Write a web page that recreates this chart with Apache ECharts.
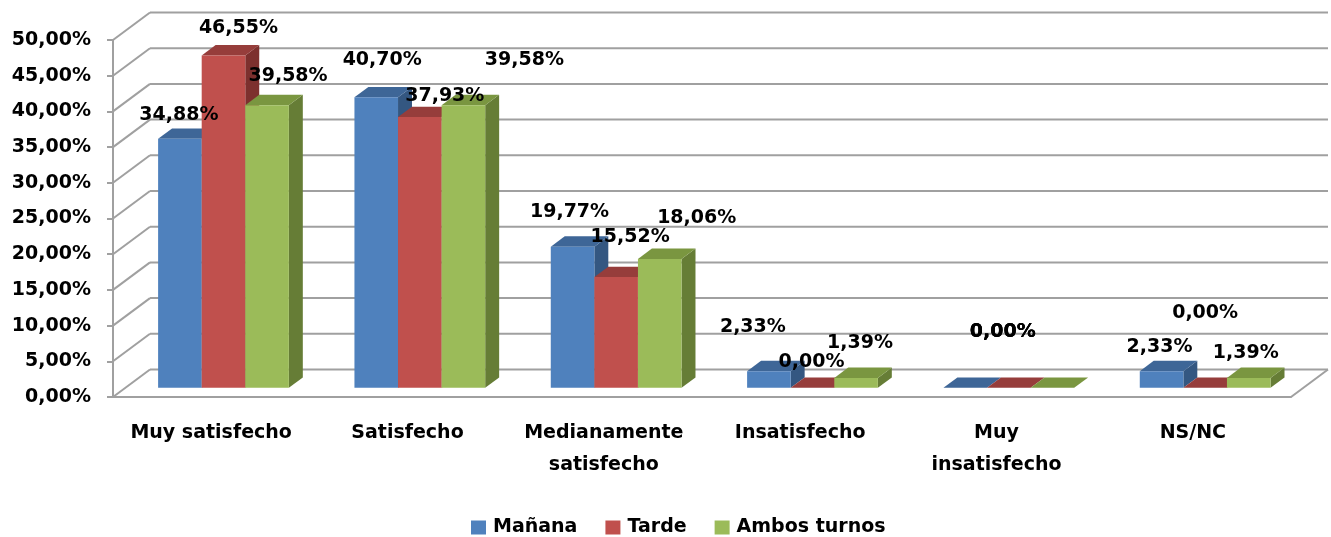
<!DOCTYPE html>
<html>
<head>
<meta charset="utf-8">
<script src="https://cdn.jsdelivr.net/npm/echarts@6/dist/echarts.min.js"></script>
<style>
  html, body { margin: 0; padding: 0; background: #fff; }
  #chart { width: 1331px; height: 537px; }
</style>
</head>
<body>
<div id="chart"></div>
<script>
const categories = ['Muy satisfecho', 'Satisfecho', 'Medianamente\nsatisfecho', 'Insatisfecho', 'Muy\ninsatisfecho', 'NS/NC'];
const manana = [34.88, 40.70, 19.77, 2.33, 0.00, 2.33];
const tarde = [46.55, 37.93, 15.52, 0.00, 0.00, 0.00];
const ambos = [39.58, 39.58, 18.06, 1.39, 0.00, 1.39];
const yTicks = [0, 5, 10, 15, 20, 25, 30, 35, 40, 45, 50];
const seriesNames = ['Mañana', 'Tarde', 'Ambos turnos'];

// pseudo 3d settings (pixels)
const DX = 37, DY = 27.5;
const D0 = 0.333, D1 = 0.71;
const BAR_SHARE = 0.222;
const FONT = 'bold 19px "DejaVu Sans"';
const faces = [
    { front: '#4f81bd', top: '#3e6697', side: '#345781' },
    { front: '#c0504d', top: '#963d3b', side: '#7d302e' },
    { front: '#9bbb59', top: '#7a9640', side: '#667d36' }
];
// label nudges (Excel moved the labels around to avoid overlap)
// null = stack on the middle bar's label of the same category
const labelNudge = [
    [[-8, -19], [-1, -32], [-10, -29], [-23, -39], null, [-9, -19]],
    [[8, -22], [18, -16], [7, -35], [-8, -21], [-13, -51], [-7, -70]],
    [[14, -24], [54, -40], [30, -36], [-3, -30], null, [-10, -20]]
];

const fmt = v => v.toFixed(2).replace('.', ',') + '%';
const proj = (x, y, d) => [x + d * DX, y - d * DY];

function barGeom(api, s) {
    const cat = api.value(0), v = api.value(1);
    const bw = api.size([1, 0])[0];
    const w = bw * BAR_SHARE;
    const cTop = api.coord([cat, v]);
    const cBot = api.coord([cat, 0]);
    const xl = cTop[0] + (s - 1) * w - w / 2;
    return { xl: xl, xr: xl + w, yt: cTop[1], yb: cBot[1], w: w };
}

function barSeries(s, values) {
    return {
        name: seriesNames[s],
        type: 'custom',
        z: 2,
        itemStyle: { color: faces[s].front },
        data: values.map((v, i) => [i, v]),
        renderItem: function (params, api) {
            const g = barGeom(api, s);
            const f = faces[s];
            const side = [proj(g.xr, g.yt, D0), proj(g.xr, g.yt, D1), proj(g.xr, g.yb, D1), proj(g.xr, g.yb, D0)];
            const top = [proj(g.xl, g.yt, D0), proj(g.xr, g.yt, D0), proj(g.xr, g.yt, D1), proj(g.xl, g.yt, D1)];
            const front = [proj(g.xl, g.yt, D0), proj(g.xr, g.yt, D0), proj(g.xr, g.yb, D0), proj(g.xl, g.yb, D0)];
            return {
                type: 'group',
                children: [
                    { type: 'polygon', shape: { points: side }, style: { fill: f.side } },
                    { type: 'polygon', shape: { points: top }, style: { fill: f.top } },
                    { type: 'polygon', shape: { points: front }, style: { fill: f.front } }
                ]
            };
        }
    };
}

const labelData = [];
[manana, tarde, ambos].forEach((arr, s) => {
    arr.forEach((v, i) => {
        const n = labelNudge[s][i];
        if (n) labelData.push([i, v, s, n[0], n[1], 0]);
        else labelData.push([i, v, s, labelNudge[1][i][0], labelNudge[1][i][1], 1 - s]);
    });
});

const chart = echarts.init(document.getElementById('chart'));

const option = {
    animation: false,
    backgroundColor: '#fff',
    textStyle: { fontFamily: 'DejaVu Sans' },
    grid: { left: 113, right: 40, top: 40, bottom: 140 },
    legend: {
        data: seriesNames,
        left: 466,
        top: 513,
        icon: 'rect',
        itemWidth: 15,
        itemHeight: 14,
        itemGap: 28,
        textStyle: { fontSize: 19, fontWeight: 'bold', color: '#000', fontFamily: 'DejaVu Sans', padding: [0, 0, 0, 2] }
    },
    xAxis: {
        type: 'category',
        data: categories,
        axisLine: { show: true, lineStyle: { color: '#a0a0a0', width: 2 } },
        axisTick: { show: false },
        axisLabel: {
            interval: 0,
            margin: 20,
            fontSize: 19,
            fontWeight: 'bold',
            lineHeight: 32,
            color: '#000',
            fontFamily: 'DejaVu Sans'
        }
    },
    yAxis: {
        type: 'value',
        min: 0,
        max: 50,
        interval: 5,
        axisLine: { show: true, lineStyle: { color: '#a0a0a0', width: 2 } },
        axisTick: { show: true, length: 6, lineStyle: { color: '#a0a0a0', width: 2 } },
        splitLine: { show: false },
        axisLabel: {
            formatter: v => fmt(v),
            margin: 22,
            fontSize: 19,
            fontWeight: 'bold',
            color: '#000',
            fontFamily: 'DejaVu Sans'
        }
    },
    series: [
        {
            type: 'custom',
            name: 'walls',
            z: 1,
            silent: true,
            data: yTicks.map(t => [0, t]),
            renderItem: function (params, api) {
                const v = api.value(1);
                const bw = api.size([1, 0])[0];
                const pL = api.coord([0, v]);
                const xL = pL[0] - bw / 2, y = pL[1];
                const xR = api.coord([categories.length - 1, v])[0] + bw / 2;
                const ls = { stroke: '#a0a0a0', lineWidth: 2 };
                const kids = [
                    { type: 'line', shape: { x1: xL, y1: y, x2: xL + DX, y2: y - DY }, style: ls },
                    { type: 'line', shape: { x1: xL + DX, y1: y - DY, x2: xR + DX, y2: y - DY }, style: ls }
                ];
                if (v === 0) {
                    kids.push({ type: 'line', shape: { x1: xR, y1: y, x2: xR + DX, y2: y - DY }, style: ls });
                }
                return { type: 'group', children: kids };
            }
        },
        barSeries(0, manana),
        barSeries(1, tarde),
        barSeries(2, ambos),
        {
            type: 'custom',
            name: 'labels',
            z: 3,
            silent: true,
            data: labelData,
            renderItem: function (params, api) {
                const s = api.value(2);
                const g = barGeom(api, s);
                const dm = (D0 + D1) / 2;
                const a = proj((g.xl + g.xr) / 2, g.yt, dm);
                // shift (in bar widths) used to stack a label on a neighbour's
                const shift = api.value(5) * g.w;
                return {
                    type: 'text',
                    style: {
                        text: fmt(api.value(1)),
                        x: a[0] + shift + api.value(3),
                        y: a[1] + api.value(4),
                        font: FONT,
                        fill: '#000',
                        align: 'center',
                        verticalAlign: 'middle'
                    }
                };
            }
        }
    ]
};

chart.setOption(option);
</script>
</body>
</html>
